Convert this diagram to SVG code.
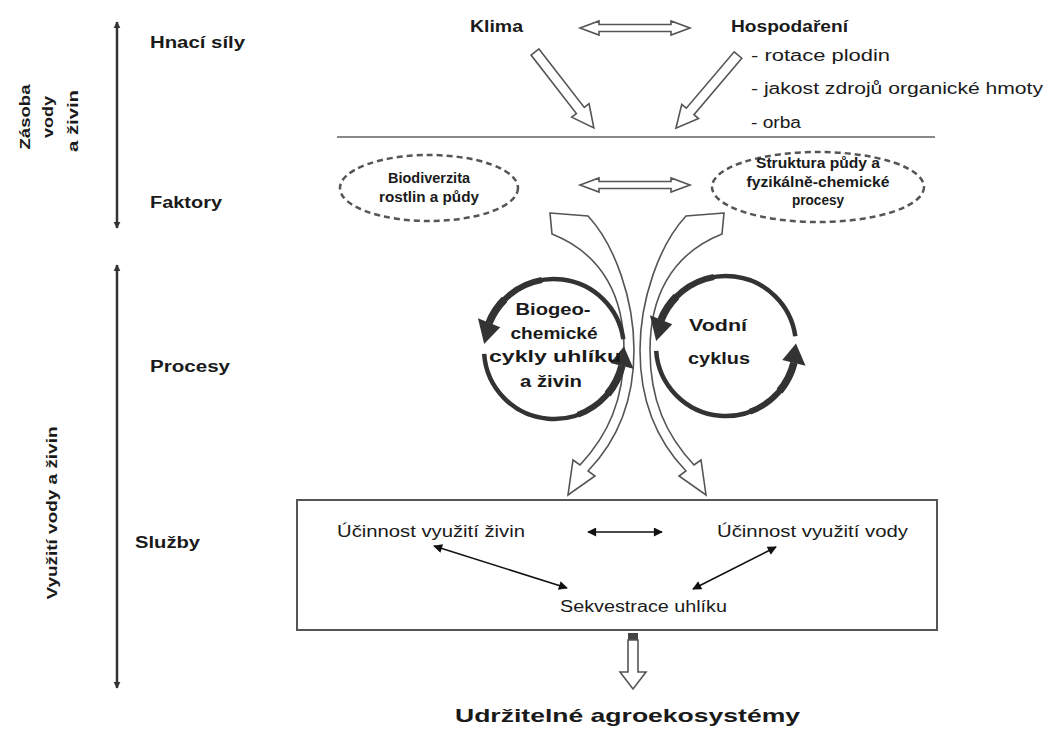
<svg xmlns="http://www.w3.org/2000/svg" width="1046" height="733" viewBox="0 0 1046 733">
<style>
text{font-family:"Liberation Sans",Arial,Helvetica,sans-serif;fill:#1a1a1a}
.b{font-weight:bold}
.c{text-anchor:middle}
.open{fill:#fff;stroke:#555;stroke-width:1.6;stroke-linejoin:miter}
.ell{fill:none;stroke:#555;stroke-width:2.5;stroke-dasharray:6 4}
.axis{stroke:#333;stroke-width:2.5;fill:none}
.arc{stroke:#333;stroke-width:4.5;fill:none}
.arc6{stroke:#333;stroke-width:6;fill:none}
.arc8{stroke:#333;stroke-width:7.5;fill:none}
.head{fill:#333}
.thin{stroke:#111;stroke-width:1.6;fill:none}
</style>
<defs>
<marker id="ax" viewBox="0 0 10 10" refX="9" refY="5" markerWidth="7" markerHeight="9" markerUnits="userSpaceOnUse" orient="auto-start-reverse">
<path d="M0,0 L10,5 L0,10 z" fill="#333"/>
</marker>
<marker id="ah" viewBox="0 0 10 10" refX="9" refY="5" markerWidth="11" markerHeight="9" markerUnits="userSpaceOnUse" orient="auto-start-reverse">
<path d="M0,0 L10,5 L0,10 z" fill="#111"/>
</marker>
<path id="dbl" d="M0,0 L19,-7 L19,-3.5 L91,-3.5 L91,-7 L110,0 L91,7 L91,3.5 L19,3.5 L19,7 Z"/>
<path id="sgl" d="M0,-5 L74,-5 L74,-11 L96,0 L74,11 L74,5 L0,5 Z"/>
<g id="cyc">
<path class="arc" d="M69.32,-9.74 A70 70 0 0 0 -64.90,-26.22"/>
<path class="arc6" d="M-12.15,-68.94 A70 70 0 0 0 -64.90,-26.22"/>
<path class="arc8" d="M-49.50,-49.50 A70 70 0 0 0 -64.90,-26.22"/>
<path class="head" d="M-76.03,-30.72 L-53.77,-21.72 L-69.83,-4.89 Z"/>
<path class="arc" d="M-69.83,4.89 A70 70 0 0 0 67.92,16.93"/>
<path class="arc6" d="M23.94,65.78 A70 70 0 0 0 67.92,16.93"/>
<path class="arc8" d="M53.62,45.00 A70 70 0 0 0 67.92,16.93"/>
<path class="head" d="M79.56,19.83 L56.28,14.03 L69.96,-2.44 Z"/>
</g>
</defs>

<g id="axis-top">
<line class="axis" x1="117" y1="22" x2="117" y2="228" marker-start="url(#ax)" marker-end="url(#ax)"/>
<text class="b c" font-size="14" transform="translate(30,117) rotate(-90)" textLength="65" lengthAdjust="spacingAndGlyphs">Zásoba</text>
<text class="b c" font-size="14" transform="translate(53,117) rotate(-90)" textLength="42" lengthAdjust="spacingAndGlyphs">vody</text>
<text class="b c" font-size="14" transform="translate(78,121) rotate(-90)" textLength="62" lengthAdjust="spacingAndGlyphs">a živin</text>
</g>
<g id="axis-bottom">
<line class="axis" x1="117" y1="265" x2="117" y2="688" marker-start="url(#ax)" marker-end="url(#ax)"/>
<text class="b c" font-size="15" transform="translate(57,513) rotate(-90)" textLength="173" lengthAdjust="spacingAndGlyphs">Využití vody a živin</text>
</g>

<g id="level-labels">
<text class="b" font-size="16" x="150" y="48" textLength="95" lengthAdjust="spacingAndGlyphs">Hnací síly</text>
<text class="b" font-size="16" x="150" y="208" textLength="72" lengthAdjust="spacingAndGlyphs">Faktory</text>
<text class="b" font-size="16" x="150" y="372" textLength="80" lengthAdjust="spacingAndGlyphs">Procesy</text>
<text class="b" font-size="16" x="135" y="548" textLength="65" lengthAdjust="spacingAndGlyphs">Služby</text>
</g>

<g id="klima">
<text class="b" font-size="16" x="470" y="32" textLength="53" lengthAdjust="spacingAndGlyphs">Klima</text>
</g>
<g id="hospodareni">
<text class="b" font-size="16" x="731" y="32" textLength="117" lengthAdjust="spacingAndGlyphs">Hospodaření</text>
<text font-size="16" x="751" y="61" textLength="139" lengthAdjust="spacingAndGlyphs">- rotace plodin</text>
<text font-size="16" x="751" y="94" textLength="292" lengthAdjust="spacingAndGlyphs">- jakost zdrojů organické hmoty</text>
<text font-size="16" x="751" y="128" textLength="50" lengthAdjust="spacingAndGlyphs">- orba</text>
</g>

<g id="divider">
<line x1="337" y1="137" x2="935" y2="137" stroke="#888" stroke-width="2"/>
</g>

<g id="biodiverzita">
<ellipse class="ell" cx="429" cy="188" rx="89" ry="33"/>
<text class="b c" font-size="14" x="429" y="183" textLength="82" lengthAdjust="spacingAndGlyphs">Biodiverzita</text>
<text class="b c" font-size="14" x="429" y="202" textLength="100" lengthAdjust="spacingAndGlyphs">rostlin a půdy</text>
</g>
<g id="struktura">
<ellipse class="ell" cx="818" cy="187" rx="106" ry="35"/>
<text class="b c" font-size="14" x="818" y="168" textLength="124" lengthAdjust="spacingAndGlyphs">Struktura půdy a</text>
<text class="b c" font-size="14" x="818" y="187" textLength="143" lengthAdjust="spacingAndGlyphs">fyzikálně-chemické</text>
<text class="b c" font-size="14" x="818" y="205" textLength="52" lengthAdjust="spacingAndGlyphs">procesy</text>
</g>

<g id="connectors">
<use href="#dbl" class="open" transform="translate(580,28)"/>
<use href="#sgl" class="open" transform="translate(535,52) rotate(52.2)"/>
<use href="#sgl" class="open" transform="translate(738,55) rotate(130.3)"/>
<use href="#dbl" class="open" transform="translate(580,185)"/>
<path class="open" d="M550,213 L588,216 C615,245 634,300 634,350 C634,400 618,440 588,471 L595,476 L568,495 L573,460 L580,465 C608,435 624,400 624,350 C624,300 605,255 552,234 Z"/>
<path class="open" d="M724,213 L686,216 C659,245 640,300 640,350 C640,400 656,440 686,471 L679,476 L706,495 L701,460 L694,465 C666,435 650,400 650,350 C650,300 669,255 722,234 Z"/>
<line class="thin" x1="588" y1="532" x2="662" y2="532" marker-start="url(#ah)" marker-end="url(#ah)"/>
<line class="thin" x1="434" y1="546" x2="567" y2="588" marker-start="url(#ah)" marker-end="url(#ah)"/>
<line class="thin" x1="776" y1="547" x2="693" y2="589" marker-start="url(#ah)" marker-end="url(#ah)"/>
<rect x="628" y="633" width="10" height="8" fill="#444"/>
<path class="open" d="M628,640 L638,640 L638,672 L646,672 L633,689 L620,672 L628,672 Z"/>
</g>

<g id="biogeochemicke-cykly">
<use href="#cyc" transform="translate(554,349)"/>
<text class="b c" font-size="16" x="553" y="315" textLength="75" lengthAdjust="spacingAndGlyphs">Biogeo-</text>
<text class="b c" font-size="16" x="554" y="339" textLength="87" lengthAdjust="spacingAndGlyphs">chemické</text>
<text class="b c" font-size="16" x="555" y="362" textLength="132" lengthAdjust="spacingAndGlyphs">cykly uhlíku</text>
<text class="b c" font-size="16" x="551" y="387" textLength="62" lengthAdjust="spacingAndGlyphs">a živin</text>
</g>
<g id="vodni-cyklus">
<use href="#cyc" transform="translate(726,346)"/>
<text class="b c" font-size="16" x="718" y="331" textLength="58" lengthAdjust="spacingAndGlyphs">Vodní</text>
<text class="b c" font-size="16" x="719" y="364" textLength="62" lengthAdjust="spacingAndGlyphs">cyklus</text>
</g>

<g id="sluzby-box">
<rect x="297" y="500" width="640" height="130" fill="none" stroke="#555" stroke-width="2"/>
</g>
<g id="ucinnost-ziviny">
<text font-size="16" x="337" y="537" textLength="188" lengthAdjust="spacingAndGlyphs">Účinnost využití živin</text>
</g>
<g id="ucinnost-vody">
<text font-size="16" x="717" y="537" textLength="191" lengthAdjust="spacingAndGlyphs">Účinnost využití vody</text>
</g>
<g id="sekvestrace">
<text font-size="16" x="560" y="612" textLength="167" lengthAdjust="spacingAndGlyphs">Sekvestrace uhlíku</text>
</g>

<g id="agroekosystemy">
<text class="b" font-size="19" x="455" y="722" textLength="345" lengthAdjust="spacingAndGlyphs">Udržitelné agroekosystémy</text>
</g>
</svg>
